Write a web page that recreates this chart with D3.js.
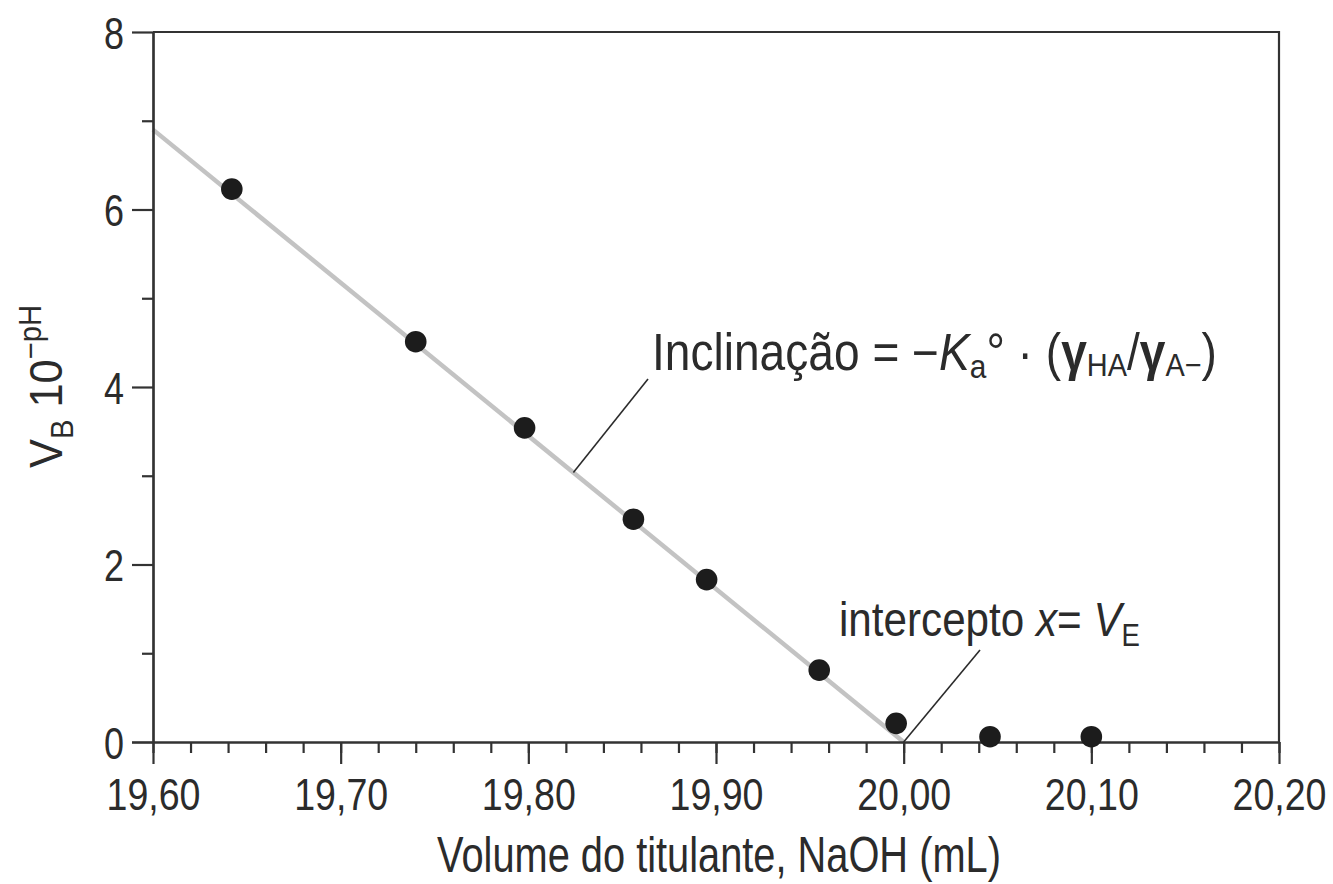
<!DOCTYPE html>
<html>
<head>
<meta charset="utf-8">
<script src="https://cdn.jsdelivr.net/npm/d3@7"></script>
<style>
  html, body { margin: 0; padding: 0; background: #fff; }
  svg { display: block; }
  text {
    font-family: "Liberation Sans Narrow", "Arial Narrow", "Liberation Sans", Arial, sans-serif;
    fill: #2b2b2b;
  }
</style>
</head>
<body>
<svg id="chart" width="1333" height="884"></svg>
<script>
// Gran plot: V_B · 10^-pH against volume of NaOH titrant
const volumeML   = [19.642, 19.740, 19.798, 19.856, 19.895, 19.955, 19.996, 20.046, 20.100];
const granValue  = [6.23, 4.51, 3.54, 2.51, 1.83, 0.81, 0.21, 0.06, 0.06];

// fitted straight line, from the left edge down to its x-intercept (V_E)
const fitVolume  = [19.60, 20.00];
const fitValue   = [6.90, 0];

const xTickValues = [19.6, 19.7, 19.8, 19.9, 20.0, 20.1, 20.2];
const xTickLabels = ["19,60", "19,70", "19,80", "19,90", "20,00", "20,10", "20,20"];
const yTickValues = [0, 2, 4, 6, 8];
const yTickLabels = ["0", "2", "4", "6", "8"];
const yMinorTicks = [1, 3, 5, 7];

const svg = d3.select("#chart");
const axisColor = "#333";

const x = d3.scaleLinear().domain([19.6, 20.2]).range([153, 1279]);
const y = d3.scaleLinear().domain([0, 8]).range([742, 32]);

// squeeze a text horizontally about its anchor so it spans the wanted width
function fitWidth(textSel, width) {
  const node = textSel.node();
  const w = node.getBBox().width;
  if (w > 0) {
    const s = width / w;
    const ax = +textSel.attr("x") || 0;
    textSel.attr("transform", `translate(${ax},0) scale(${s},1) translate(${-ax},0)`);
  }
}

// ---- fitted line (under the points)
svg.append("line")
  .attr("x1", x(fitVolume[0])).attr("y1", y(fitValue[0]))
  .attr("x2", x(fitVolume[1])).attr("y2", y(fitValue[1]))
  .attr("stroke", "#c3c3c3").attr("stroke-width", 4.5);

// ---- frame: top and right edges
svg.append("path")
  .attr("d", `M${x(19.6)},${y(8)}H${x(20.2)}V${y(0)}`)
  .attr("fill", "none").attr("stroke", axisColor).attr("stroke-width", 2.2);

// ---- x axis: major and minor ticks pointing down
const xMinor = d3.range(0, 31).map(i => 19.6 + i * 0.02);
const gxMinor = svg.append("g").attr("transform", `translate(0,${y(0)})`)
  .call(d3.axisBottom(x).tickValues(xMinor).tickSize(11).tickSizeOuter(0).tickFormat(""));
const gx = svg.append("g").attr("transform", `translate(0,${y(0)})`)
  .call(d3.axisBottom(x).tickValues(xTickValues).tickSize(22).tickSizeOuter(0)
    .tickFormat((d, i) => xTickLabels[i]));

// ---- y axis: major and minor ticks pointing left
const gyMinor = svg.append("g").attr("transform", `translate(${x(19.6)},0)`)
  .call(d3.axisLeft(y).tickValues(yMinorTicks).tickSize(11).tickSizeOuter(0).tickFormat(""));
const gy = svg.append("g").attr("transform", `translate(${x(19.6)},0)`)
  .call(d3.axisLeft(y).tickValues(yTickValues).tickSize(21).tickSizeOuter(0)
    .tickFormat((d, i) => yTickLabels[i]));

[gxMinor, gx, gyMinor, gy].forEach(g => {
  g.select(".domain").attr("stroke", axisColor).attr("stroke-width", 2.2);
  g.selectAll(".tick line").attr("stroke", axisColor).attr("stroke-width", 2.2);
});
gx.selectAll(".domain").attr("d", `M${x(19.6) - 21},0.5H${x(20.2)}`);

gx.selectAll(".tick text")
  .style("font-size", "45px").attr("fill", "#2b2b2b")
  .attr("dy", null).attr("y", 68).attr("x", 0)
  .each(function () { fitWidth(d3.select(this), 94); });
gy.selectAll(".tick text")
  .style("font-size", "45px").attr("fill", "#2b2b2b")
  .attr("dy", "0.36em").attr("x", -29)
  .each(function () { fitWidth(d3.select(this), 20); });

// ---- data points
svg.append("g").selectAll("circle")
  .data(volumeML.map((v, i) => ({ v, g: granValue[i] })))
  .join("circle")
  .attr("cx", d => x(d.v)).attr("cy", d => y(d.g))
  .attr("r", 10.8).attr("fill", "#1c1c1c");

// ---- axis titles
const xTitle = svg.append("g").attr("transform", "translate(719,872)")
  .append("text").attr("text-anchor", "middle").style("font-size", "50px")
  .text("Volume do titulante, NaOH (mL)");
fitWidth(xTitle, 564);

const yTitle = svg.append("g").attr("transform", "translate(62,468) rotate(-90)")
  .append("text").attr("text-anchor", "start").style("font-size", "46px");
yTitle.append("tspan").text("V");
yTitle.append("tspan").attr("dy", 11).style("font-size", "31px").text("B");
yTitle.append("tspan").attr("dy", -11).text(" 10");
yTitle.append("tspan").attr("dy", -21).style("font-size", "31px").text("\u2212pH");
fitWidth(yTitle, 163);

// ---- annotation: slope of the line
const slopeAt = 19.824;
const slopeAnchor = [x(slopeAt), y(fitValue[0] * (fitVolume[1] - slopeAt) / (fitVolume[1] - fitVolume[0]))];
svg.append("line")
  .attr("x1", slopeAnchor[0]).attr("y1", slopeAnchor[1])
  .attr("x2", 648).attr("y2", 379)
  .attr("stroke", "#2b2b2b").attr("stroke-width", 1.6);

const slopeText = svg.append("g").attr("transform", "translate(652,370)")
  .append("text").style("font-size", "51px");
slopeText.append("tspan").text("Inclinação = \u2212");
slopeText.append("tspan").style("font-style", "italic").text("K");
slopeText.append("tspan").attr("dy", 8).style("font-size", "33px").text("a");
slopeText.append("tspan").attr("dy", -8).text("\u00B0 \u00B7 (");
slopeText.append("tspan").style("font-weight", "bold").text("\u03B3");
slopeText.append("tspan").attr("dy", 6).style("font-size", "32px").text("HA");
slopeText.append("tspan").attr("dy", -6).text("/");
slopeText.append("tspan").style("font-weight", "bold").text("\u03B3");
slopeText.append("tspan").attr("dy", 6).style("font-size", "32px").text("A\u2212");
slopeText.append("tspan").attr("dy", -6).text(")");
fitWidth(slopeText, 565);

// ---- annotation: x-intercept = V_E
svg.append("line")
  .attr("x1", x(fitVolume[1])).attr("y1", y(fitValue[1]))
  .attr("x2", 980).attr("y2", 650)
  .attr("stroke", "#2b2b2b").attr("stroke-width", 1.6);

const interText = svg.append("g").attr("transform", "translate(839,636)")
  .append("text").style("font-size", "49px");
interText.append("tspan").text("intercepto ");
interText.append("tspan").style("font-style", "italic").text("x");
interText.append("tspan").text("= ");
interText.append("tspan").style("font-style", "italic").text("V");
interText.append("tspan").attr("dy", 10).style("font-size", "32px").text("E");
fitWidth(interText, 301);
</script>
</body>
</html>
